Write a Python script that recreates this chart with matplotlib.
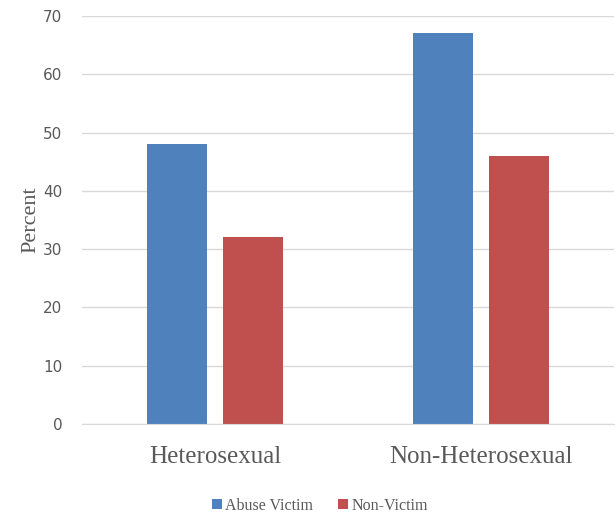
import matplotlib.pyplot as plt
import numpy as np

# Chart data
categories = ['Heterosexual', 'Non-Heterosexual']
abuse_victim = [48, 67]
non_victim = [32, 46]
series_names = ['Abuse Victim', 'Non-Victim']

blue = '#4F81BD'
red = '#C0504D'
serif = ['Liberation Serif', 'DejaVu Serif']

fig = plt.figure(figsize=(6.16, 5.14), dpi=100)
ax = fig.add_axes([0.133, 0.175, 0.864, 0.794])

x = np.arange(len(categories))
width = 0.226  # bar width in category units
offset = 0.143

ax.bar(x - offset, abuse_victim, width, color=blue, label=series_names[0], zorder=3)
ax.bar(x + offset, non_victim, width, color=red, label=series_names[1], zorder=3)

ax.set_xlim(-0.5, 1.5)
ax.set_ylim(0, 70)
ax.set_yticks(range(0, 71, 10))
ax.set_xticks(x)
ax.set_xticklabels(categories, family=serif, fontsize=18, color='#595959')
ax.tick_params(axis='y', labelsize=11, labelcolor='#595959', length=0, pad=14)
ax.tick_params(axis='x', length=0, pad=16)

ax.grid(axis='y', color='#D9D9D9', linewidth=1, zorder=0)
for side in ['top', 'right', 'left']:
    ax.spines[side].set_visible(False)
ax.spines['bottom'].set_color('#D9D9D9')
ax.spines['bottom'].set_zorder(4)

ax.set_ylabel('Percent', family=serif, fontsize=16, color='#595959', labelpad=2)

ax.legend(loc='center', bbox_to_anchor=(0.447, -0.2), ncol=2, frameon=False,
          prop={'family': serif, 'size': 11.5}, labelcolor='#595959',
          handlelength=0.6, handleheight=0.6, handletextpad=0.2, columnspacing=1.6)

fig.savefig('out.png', dpi=100)
